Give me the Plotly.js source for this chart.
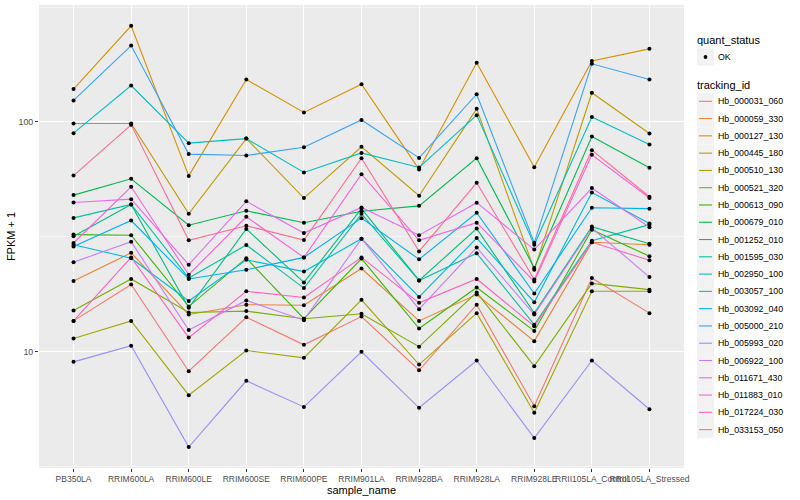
<!DOCTYPE html>
<html><head><meta charset="utf-8">
<script src="https://cdn.plot.ly/plotly-3.0.1.min.js"></script>
<style>html,body{margin:0;padding:0;background:#fff}#chart{width:800px;height:500px}</style>
</head><body><div id="chart"></div>
<script>
// ---- data ----
const sample_names = ['PB350LA','RRIM600LA','RRIM600LE','RRIM600SE','RRIM600PE','RRIM901LA','RRIM928BA','RRIM928LA','RRIM928LE','RRII105LA_Control','RRII105LA_Stressed'];
const tracking_ids = ['Hb_000031_060','Hb_000059_330','Hb_000127_130','Hb_000445_180','Hb_000510_130','Hb_000521_320','Hb_000613_090','Hb_000679_010','Hb_001252_010','Hb_001595_030','Hb_002950_100','Hb_003057_100','Hb_003092_040','Hb_005000_210','Hb_005993_020','Hb_006922_100','Hb_011671_430','Hb_011883_010','Hb_017224_030','Hb_033153_050'];
const quant_status = ['OK'];

const hb_000031_060 = [13.6, 19.6, 8.21, 14.1, 10.7, 14.2, 8.29, 16.0, 5.78, 20.9, 14.7];
const hb_000059_330 = [20.3, 26.9, 14.5, 16.0, 15.9, 23.0, 13.6, 17.7, 11.1, 29.9, 29.2];
const hb_000127_130 = [139, 262, 58.2, 153, 110, 146, 62.1, 181, 63.5, 184, 208];
const hb_000445_180 = [98.4, 98.4, 39.8, 84.6, 46.6, 77.9, 47.7, 114, 22.7, 134, 89.0];
const hb_000510_130 = [11.4, 13.6, 6.46, 10.1, 9.39, 16.8, 8.78, 14.7, 5.41, 18.3, 18.3];
const hb_000521_320 = [15.1, 20.7, 14.8, 15.0, 13.9, 14.6, 10.5, 18.1, 8.64, 19.8, 18.6];
const hb_000613_090 = [32.3, 32.1, 15.7, 25.5, 13.9, 25.4, 12.6, 19.0, 12.3, 33.9, 26.0];
const hb_000679_010 = [48.0, 56.5, 35.5, 41.0, 36.4, 40.8, 43.1, 69.5, 23.1, 86.4, 63.1];
const hb_001252_010 = [31.8, 43.7, 15.5, 34.2, 20.0, 41.9, 20.4, 34.3, 14.7, 35.0, 29.5];
const hb_001595_030 = [38.2, 43.7, 20.9, 29.1, 18.9, 39.8, 20.4, 26.8, 13.1, 30.4, 35.7];
const hb_002950_100 = [89.3, 144, 80.8, 84.6, 60.2, 73.3, 63.3, 107, 29.2, 105, 79.7];
const hb_003057_100 = [29.2, 25.5, 16.6, 25.1, 22.3, 31.0, 17.3, 31.2, 16.4, 49.3, 36.1];
const hb_003092_040 = [28.7, 37.2, 20.7, 22.7, 25.7, 38.1, 25.2, 40.2, 17.9, 42.3, 41.9];
const hb_005000_210 = [124, 215, 72.4, 71.4, 77.6, 102, 69.7, 132, 29.8, 179, 153];
const hb_005993_020 = [9.02, 10.6, 3.84, 7.46, 5.74, 9.97, 5.69, 9.14, 4.20, 9.14, 5.61];
const hb_006922_100 = [24.5, 30.1, 12.4, 16.7, 13.7, 31.0, 15.3, 28.4, 14.5, 34.5, 21.1];
const hb_011671_430 = [44.6, 46.1, 23.9, 45.1, 32.8, 42.4, 32.1, 44.5, 27.8, 51.5, 34.8];
const hb_011883_010 = [29.7, 52.2, 21.6, 38.6, 25.7, 59.2, 30.5, 36.4, 20.2, 71.9, 46.6];
const hb_017224_030 = [13.6, 25.7, 11.5, 18.3, 17.2, 25.7, 16.3, 20.7, 12.9, 29.9, 25.0];
const hb_033153_050 = [58.4, 97.1, 30.5, 35.3, 30.6, 69.5, 27.3, 54.3, 20.6, 75.3, 47.2];

const y_tick_values = [10, 100];
const y_tick_labels = ['10', '100'];

const series_values = [hb_000031_060, hb_000059_330, hb_000127_130, hb_000445_180, hb_000510_130,
  hb_000521_320, hb_000613_090, hb_000679_010, hb_001252_010, hb_001595_030, hb_002950_100,
  hb_003057_100, hb_003092_040, hb_005000_210, hb_005993_020, hb_006922_100, hb_011671_430,
  hb_011883_010, hb_017224_030, hb_033153_050];

// ---- style ----
const palette = ['#F8766D','#EA8331','#D89000','#C09B00','#A3A500','#7CAE00','#39B600','#00BB4E','#00BF7D','#00C1A3',
  '#00BFC4','#00BAE0','#00B0F6','#35A2FF','#9590FF','#C77CFF','#E76BF3','#FA62DB','#FF62BC','#FF6C91'];
const FONT = 'Liberation Sans, Arial, Helvetica, sans-serif';
const W = 800, H = 500, M = {l: 39, r: 116, t: 5, b: 32};
const pw = W - M.l - M.r, ph = H - M.t - M.b;
const px = x => (x - M.l) / pw;
const py = y => (H - M.b - y) / ph;

const traces = series_values.map((vals, i) => ({
  type: 'scatter', mode: 'lines', x: sample_names, y: vals, name: tracking_ids[i],
  line: {color: palette[i], width: 1.1}, showlegend: false, hoverinfo: 'skip'
}));
const allX = [], allY = [];
series_values.forEach(v => v.forEach((val, j) => { allX.push(sample_names[j]); allY.push(val); }));
traces.push({type: 'scatter', mode: 'markers', x: allX, y: allY, name: quant_status[0],
  marker: {color: '#000000', size: 4}, showlegend: false, hoverinfo: 'skip'});

// ---- legend built from the names ----
const shapes = [], annotations = [];
const legX = 696, keyL = 697, keyR = 714, textX = 717;
function ann(text, x, y, size) {
  annotations.push({text: text, xref: 'paper', yref: 'paper', x: px(x), y: py(y), xanchor: 'left', yanchor: 'middle',
    showarrow: false, font: {family: FONT, size: size, color: '#000'}, borderpad: 0});
}
ann('quant_status', legX, 40, 11);
shapes.push({type: 'rect', xref: 'paper', yref: 'paper', x0: px(keyL), x1: px(keyR), y0: py(48.4), y1: py(65.6),
  fillcolor: '#F2F2F2', line: {width: 0}, layer: 'below'});
shapes.push({type: 'circle', xref: 'paper', yref: 'paper', x0: px(703.6), x1: px(707.4), y0: py(55.1), y1: py(58.9),
  fillcolor: '#000', line: {width: 0}});
quant_status.forEach(q => ann(q, textX, 57, 8.8));
ann('tracking_id', legX, 85, 11);
tracking_ids.forEach((id, i) => {
  const cy = 101.3 + i * 17.28;
  shapes.push({type: 'rect', xref: 'paper', yref: 'paper', x0: px(keyL), x1: px(keyR), y0: py(cy - 8.64), y1: py(cy + 8.64),
    fillcolor: '#F2F2F2', line: {width: 0}, layer: 'below'});
  shapes.push({type: 'line', xref: 'paper', yref: 'paper', x0: px(699), x1: px(712), y0: py(cy), y1: py(cy),
    line: {color: palette[i], width: 1.1}});
  ann(id, textX, cy, 8.8);
});

const layout = {
  width: W, height: H, margin: M,
  paper_bgcolor: '#FFFFFF', plot_bgcolor: '#EBEBEB',
  font: {family: FONT, size: 8.8, color: '#4D4D4D'},
  showlegend: false,
  xaxis: {
    type: 'category', range: [-0.6, sample_names.length - 0.4], tickangle: 0,
    showgrid: true, gridcolor: '#FFFFFF', gridwidth: 1.07, zeroline: false, showline: false,
    ticks: 'outside', ticklen: 3, tickwidth: 1, tickcolor: '#333333',
    tickfont: {family: FONT, size: 8.5, color: '#4D4D4D'},
    title: {text: 'sample_name', font: {family: FONT, size: 11, color: '#000'}, standoff: 0}
  },
  yaxis: {
    type: 'log', range: [0.493, 2.509],
    tickmode: 'array', tickvals: y_tick_values, ticktext: y_tick_labels,
    showgrid: true, gridcolor: '#FFFFFF', gridwidth: 1.07, zeroline: false, showline: false,
    ticks: 'outside', ticklen: 3, tickwidth: 1, tickcolor: '#333333',
    tickfont: {family: FONT, size: 8.8, color: '#4D4D4D'},
    minor: {tickmode: 'array', tickvals: [3.1623, 31.623, 316.23], showgrid: true, gridcolor: '#FFFFFF', gridwidth: 0.53, ticks: ''},
    title: {text: 'FPKM + 1', font: {family: FONT, size: 11, color: '#000'}, standoff: 0}
  },
  shapes: shapes,
  annotations: annotations
};
Plotly.newPlot('chart', traces, layout, {displayModeBar: false, staticPlot: true});
</script>
</body></html>
